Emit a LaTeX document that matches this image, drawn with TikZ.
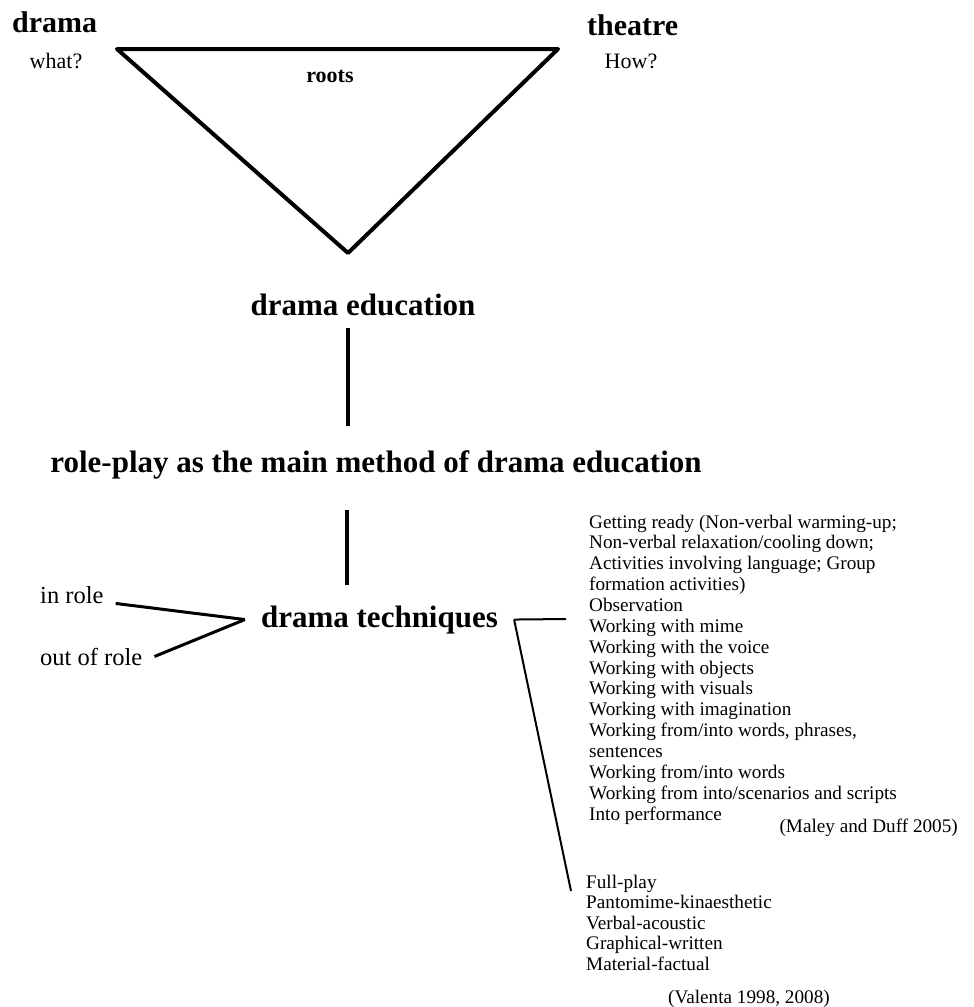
\documentclass[tikz,border=0pt]{standalone}
\usepackage{fontspec}
\setmainfont{Liberation Serif}
\usetikzlibrary{positioning}

\begin{document}
\begin{tikzpicture}[x=1pt, y=-1pt, inner sep=0pt,
  head/.style={font=\fontsize{31}{36}\selectfont\bfseries},
  top/.style={font=\fontsize{30}{34}\selectfont\bfseries},
  ask/.style={font=\fontsize{22}{26}\selectfont},
  side/.style={font=\fontsize{24.5}{28}\selectfont},
  item/.style={font=\fontsize{19.2}{21}\selectfont, anchor=base west},
  bar/.style={line width=4pt},
  link/.style={line width=3pt},
  fine/.style={line width=2pt}]
\useasboundingbox (0,0) rectangle (974,1007);
\node[top, anchor=base west] (drama) at (12,32) {drama};
\node[ask, anchor=base] (what) at (56,68) {what?};
\node[top, anchor=base west] (theatre) at (587,35) {theatre};
\node[ask, anchor=base] (how) at (631,68) {How?};
\coordinate (tl) at (117,49);
\coordinate (tr) at (558,49);
\coordinate (tb) at (348,253);
\draw[bar, line join=round] (tl) -- (tr) -- (tb) -- cycle;
\node[ask, font=\fontsize{22}{26}\selectfont\bfseries, anchor=base] (roots) at (330,82) {roots};
\node[head, anchor=base, inner ysep=12pt] (de) at (363,315) {drama education};
\node[head, anchor=base, inner ysep=24pt] (rp) at (376,472) {role-play as the main method of drama education};
\node[head, anchor=base, inner xsep=16pt, inner ysep=20pt] (dt) at (379.5,627) {drama techniques};
\draw[bar] (de.south -| tb) -- (rp.north -| tb);
\draw[bar, shorten <=7pt] ([xshift=-1pt]rp.south -| tb) -- ([xshift=-1pt]dt.north -| tb);
\node[side, anchor=base west, inner xsep=12pt] (inrole) at (28,603) {in role};
\node[side, anchor=base west, inner xsep=12pt] (outrole) at (28,665) {out of role};
\draw[link] (inrole.south east) -- (dt.west);
\draw[link] (outrole.east) -- (dt.west);
\coordinate (lsta) at (566,619);
\coordinate (lstb) at (571,891);
\draw[fine] (dt.east) -- (lsta);
\draw[fine] (dt.east) -- (lstb);
\foreach \t [count=\k] in {Getting ready (Non-verbal warming-up;,
  Non-verbal relaxation/cooling down;,
  Activities involving language; Group,
  formation activities),
  Observation,
  Working with mime,
  Working with the voice,
  Working with objects,
  Working with visuals,
  Working with imagination,
  {Working from/into words, phrases,},
  sentences,
  Working from/into words,
  Working from into/scenarios and scripts,
  Into performance}
  \node[item] (md\k) at (589,{528+(\k-1)*20.86}) {\t};
\node[item, anchor=base east] (maley) at (958,832) {(Maley and Duff 2005)};
\foreach \t [count=\k] in {Full-play, Pantomime-kinaesthetic, Verbal-acoustic,
  Graphical-written, Material-factual}
  \node[item] (va\k) at (586,{888+(\k-1)*20.5}) {\t};
\node[item] (valenta) at (668,1003) {(Valenta 1998, 2008)};
\end{tikzpicture}
\end{document}
